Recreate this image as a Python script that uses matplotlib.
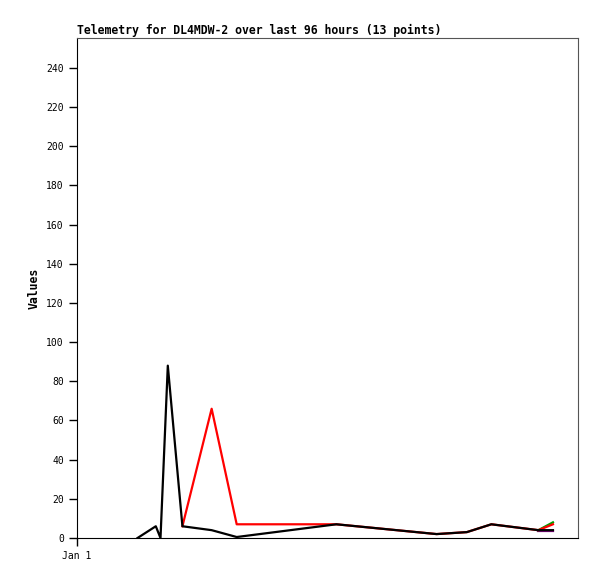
import numpy as np
import matplotlib
matplotlib.use("Agg")
import matplotlib.pyplot as plt

# hours since Jan 1 00:00
hours = [11.6, 15.1, 16.0, 17.4, 20.2, 25.8, 30.6, 49.7, 68.9, 74.7, 79.4, 88.4, 91.2]
nan = np.nan
black_vals = [0, 6, 0, 88, 6, 4, 0.5, 7, 2, 3, 7, 4, 4]
red_vals = [nan, nan, nan, nan, 6, 66, 7, 7, 2, 3, 7, 4, 7]
green_vals = [nan, nan, nan, nan, nan, nan, nan, nan, nan, nan, nan, 4, 8]
purple_vals = [nan, nan, nan, nan, nan, nan, nan, nan, nan, nan, nan, 3.5, 3.5]

yticks = list(range(0, 241, 20))

fig = plt.figure(figsize=(5.97, 5.79), dpi=100)
ax = fig.add_axes([77 / 597, 41 / 579, 501 / 597, 500 / 579])

ax.plot(hours, purple_vals, color="#800080", lw=1.6)
ax.plot(hours, green_vals, color="#00a000", lw=1.6)
ax.plot(hours, red_vals, color="#ff0000", lw=1.6)
ax.plot(hours, black_vals, color="black", lw=1.6)

ax.set_xlim(0, 96)
ax.set_ylim(0, 255.3)
ax.set_yticks(yticks)
ax.set_xticks([0])
ax.set_xticklabels(["Jan 1"])
ax.tick_params(axis="both", direction="out", length=6, width=1, labelsize=7)
for lab in ax.get_xticklabels() + ax.get_yticklabels():
    lab.set_family("DejaVu Sans Mono")

for s in ["top", "right"]:
    ax.spines[s].set_color("#555555")
ax.spines["left"].set_color("black")
ax.spines["bottom"].set_color("black")

ax.set_title("Telemetry for DL4MDW-2 over last 96 hours (13 points)",
             loc="left", fontsize=8.3, fontweight="bold",
             family="DejaVu Sans Mono", pad=3)
ax.set_ylabel("Values", fontsize=8.3, fontweight="bold", family="DejaVu Sans Mono",
              labelpad=4)

fig.savefig("out.png", dpi=100)
